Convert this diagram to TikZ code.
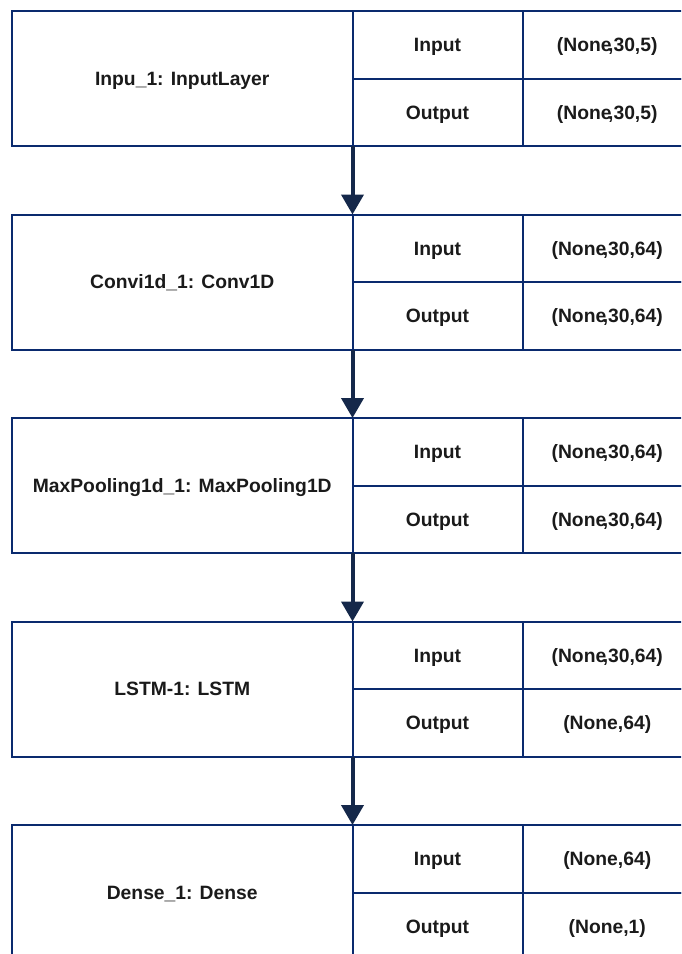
\documentclass[tikz,border=0pt]{standalone}
\usepackage{fontspec}
\setmainfont{Liberation Sans}
\usetikzlibrary{arrows.meta}
\definecolor{boxline}{HTML}{0A2A6E}
\definecolor{arrowcol}{HTML}{15284A}
\definecolor{txt}{HTML}{1A1A1A}
\newcommand{\nc}{\kern-3.5pt}
\tikzset{
  cell/.style={draw=boxline, line width=2pt, outer sep=0pt, inner sep=0pt, rectangle,
    text=txt, font=\fontsize{19.3}{22}\selectfont\bfseries,
    text height=13.8pt, text depth=0pt},
  namecell/.style={cell, minimum width=340.5pt, minimum height=135pt},
  keycell/.style={cell, minimum width=170pt, minimum height=67.5pt},
  valcell/.style={cell, minimum width=169.5pt, minimum height=67.5pt},
  flow/.style={draw=arrowcol, line width=4pt, -{Triangle[width=22pt,length=20pt]}}
}
\begin{document}
\begin{tikzpicture}[x=1pt,y=-1pt]
\useasboundingbox (0,0) rectangle (681,954);
\clip (0,0) rectangle (681,954);
% layer 0
\node[namecell] (L0) at (182.25,78.5) {Inpu\_1: InputLayer};
\node[keycell] (K0a) at (437.5,44.75) {Input};
\node[keycell] (K0b) at (437.5,112.25) {Output};
\node[valcell] (V0a) at (607.25,44.75) {(None\nc,30,5)};
\node[valcell] (V0b) at (607.25,112.25) {(None\nc,30,5)};
% layer 1
\node[namecell] (L1) at (182.25,282) {Convi1d\_1: Conv1D};
\node[keycell] (K1a) at (437.5,248.25) {Input};
\node[keycell] (K1b) at (437.5,315.75) {Output};
\node[valcell] (V1a) at (607.25,248.25) {(None\nc,30,64)};
\node[valcell] (V1b) at (607.25,315.75) {(None\nc,30,64)};
% layer 2
\node[namecell] (L2) at (182.25,485.5) {MaxPooling1d\_1: MaxPooling1D};
\node[keycell] (K2a) at (437.5,451.75) {Input};
\node[keycell] (K2b) at (437.5,519.25) {Output};
\node[valcell] (V2a) at (607.25,451.75) {(None\nc,30,64)};
\node[valcell] (V2b) at (607.25,519.25) {(None\nc,30,64)};
% layer 3
\node[namecell] (L3) at (182.25,689) {LSTM-1: LSTM};
\node[keycell] (K3a) at (437.5,655.25) {Input};
\node[keycell] (K3b) at (437.5,722.75) {Output};
\node[valcell] (V3a) at (607.25,655.25) {(None\nc,30,64)};
\node[valcell] (V3b) at (607.25,722.75) {(None,64)};
% layer 4
\node[namecell] (L4) at (182.25,892.5) {Dense\_1: Dense};
\node[keycell] (K4a) at (437.5,858.75) {Input};
\node[keycell] (K4b) at (437.5,926.25) {Output};
\node[valcell] (V4a) at (607.25,858.75) {(None,64)};
\node[valcell] (V4b) at (607.25,926.25) {(None,1)};
% arrows
\draw[flow] (L0.south east) -- (L1.north east);
\draw[flow] (L1.south east) -- (L2.north east);
\draw[flow] (L2.south east) -- (L3.north east);
\draw[flow] (L3.south east) -- (L4.north east);
\end{tikzpicture}
\end{document}
